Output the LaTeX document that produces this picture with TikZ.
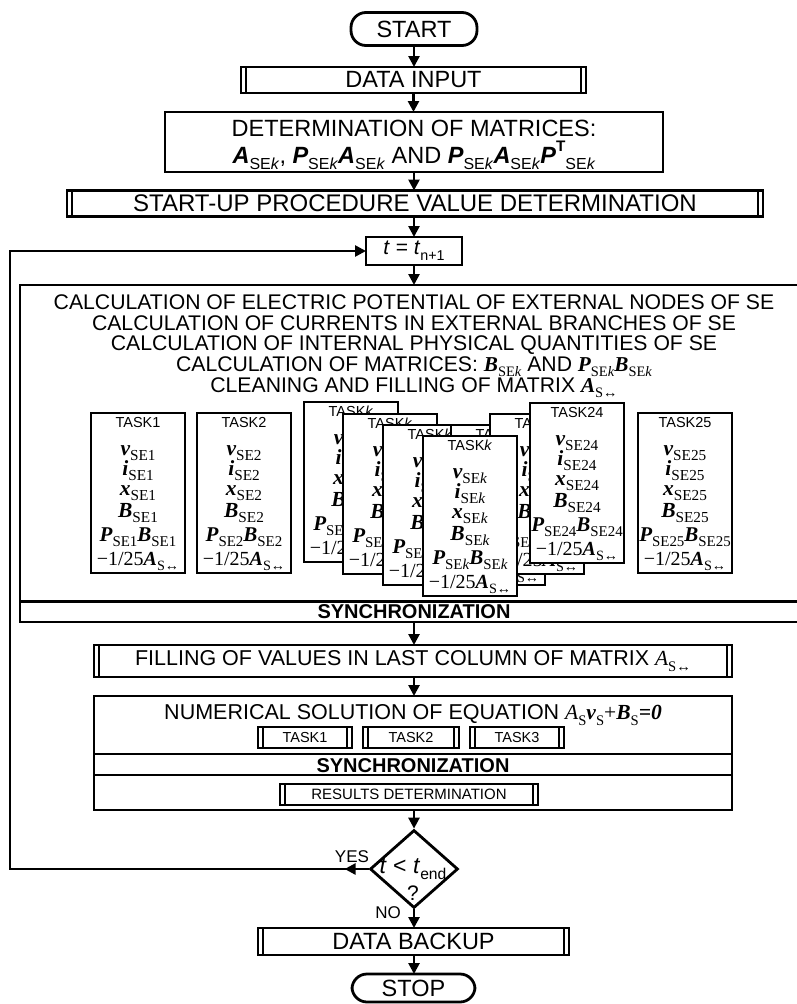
\documentclass[tikz,border=0pt]{standalone}
\usepackage{fontspec}
\setmainfont{Liberation Sans}
\setsansfont{Liberation Sans}
\newfontfamily\tms{Liberation Serif}
\usetikzlibrary{arrows.meta,shapes.geometric,calc}

\newcommand{\sbs}[1]{\raisebox{-0.28em}{\scalebox{0.68}{#1}}}
\newcommand{\tsbs}[1]{\raisebox{-0.25em}{\scalebox{0.71}{#1}}}
\newcommand{\sps}[1]{\raisebox{0.5em}{\scalebox{0.65}{#1}}}
\newcommand{\bis}[1]{{\tms\bfseries\itshape #1}}
\newcommand{\bia}[1]{{\bfseries\itshape #1}}
\newcommand{\fsz}[1]{\fontsize{#1}{#1}\selectfont}

\tikzset{
  box/.style={draw, line width=2.8pt, fill=white, inner sep=0pt, outer sep=0pt},
  pp/.style={box, path picture={\draw[line width=1.8pt]
      ([xshift=5pt]path picture bounding box.north west) -- ([xshift=5pt]path picture bounding box.south west)
      ([xshift=-5pt]path picture bounding box.north east) -- ([xshift=-5pt]path picture bounding box.south east);}},
  term/.style={box, rounded corners=15pt},
  tbox/.style={box, minimum width=94pt, minimum height=160pt},
  txt/.style={inner sep=0pt, outer sep=0pt},
  arr/.style={line width=2.6pt, -{Triangle[length=11pt,width=11pt]}},
  sepline/.style={line width=2.8pt},
}

% task box: name, left x, top y, label index, subscript index
\newcommand{\tsk}[5]{%
  \node[tbox] (#1) at (#2+47,#3+80) {};
  \node[txt, anchor=base, font=\fsz{14.5}] (#1-a) at (#2+47,#3+14) {TASK#4};
  \node[txt, anchor=base, font=\tms\fsz{21.5}] (#1-b) at (#2+47,#3+42) {\bis{v}\tsbs{SE#5}};
  \node[txt, anchor=base, font=\tms\fsz{21.5}] (#1-c) at (#2+47,#3+62) {\bis{i}\tsbs{SE#5}};
  \node[txt, anchor=base, font=\tms\fsz{21.5}] (#1-d) at (#2+47,#3+82) {\bis{x}\tsbs{SE#5}};
  \node[txt, anchor=base, font=\tms\fsz{21.5}] (#1-e) at (#2+47,#3+104) {\bis{B}\tsbs{SE#5}};
  \node[txt, anchor=base, font=\tms\fsz{21}] (#1-f) at (#2+47,#3+128) {\bis{P}\tsbs{SE#5}\bis{B}\tsbs{SE#5}};
  \node[txt, anchor=base, font=\tms\fsz{20}] (#1-g) at (#2+47,#3+152) {−1/25\bis{A}\tsbs{S↔}};
}

\begin{document}
\begin{tikzpicture}[x=1pt,y=-1pt]
\useasboundingbox (0,0) rectangle (797,1004);
\clip (0,0) rectangle (797,1004);
\fill[white] (0,0) rectangle (797,1004);

% top part
\node[term, minimum width=126pt, minimum height=33pt, font=\fsz{23.5}] (start) at (414,29) {START};
\node[pp, minimum width=345pt, minimum height=26pt, font=\fsz{23.5}] (din) at (413.5,80) {DATA INPUT};
\node[box, minimum width=498pt, minimum height=60pt] (det) at (414,142) {};
\node[txt, anchor=base, font=\fsz{23.5}] (det1) at (414,136) {DETERMINATION OF MATRICES:};
\node[txt, anchor=base, font=\fsz{23.5}] (det2) at (414,163) {\bia{A}\sbs{SE\textit{k}}, \bia{P}\sbs{SE\textit{k}}\bia{A}\sbs{SE\textit{k}} AND \bia{P}\sbs{SE\textit{k}}\bia{A}\sbs{SE\textit{k}}\bia{P}\sps{\textbf{T}}\sbs{SE\textit{k}}};
\node[pp, minimum width=696pt, minimum height=26pt, font=\fsz{24}] (sup) at (415,203.5) {START-UP PROCEDURE VALUE DETERMINATION};
\node[box, minimum width=96pt, minimum height=28pt, font=\fsz{21}] (t) at (414,251) {\textit{t} = \textit{t}\sbs{n+1}};

% big parallel box
\node[box, anchor=north west, minimum width=800pt, minimum height=337pt] (big) at (20,285) {};
\draw[sepline] ([yshift=-316.7pt]big.north west) -- ([yshift=-316.7pt]big.north east);
\node[txt, anchor=base, font=\fsz{21.2}] (b1) at (414,309) {CALCULATION OF ELECTRIC POTENTIAL OF EXTERNAL NODES OF SE};
\node[txt, anchor=base, font=\fsz{21.2}] (b2) at (414,330) {CALCULATION OF CURRENTS IN EXTERNAL BRANCHES OF SE};
\node[txt, anchor=base, font=\fsz{21.2}] (b3) at (414,350.5) {CALCULATION OF INTERNAL PHYSICAL QUANTITIES OF SE};
\node[txt, anchor=base, font=\fsz{21.2}] (b4) at (414,371) {CALCULATION OF MATRICES: \bis{B}\sbs{\tms SE\textit{k}} AND \bis{P}\sbs{\tms SE\textit{k}}\bis{B}\sbs{\tms SE\textit{k}}};
\node[txt, anchor=base, font=\fsz{21.2}] (b5) at (414,392) {CLEANING AND FILLING OF MATRIX \bis{A}\sbs{\tms S↔}};

\tsk{k1}{91}{413}{1}{1}
\tsk{k2}{197}{413}{2}{2}
\tsk{ka}{304}{402}{\textit{k}}{\textit{k}}
\tsk{kb}{343}{414}{\textit{k}}{\textit{k}}
\tsk{kc}{383}{425}{\textit{k}}{\textit{k}}
\tsk{ke}{451}{425}{\textit{k}}{\textit{k}}
\tsk{kf}{490}{414}{\textit{k}}{\textit{k}}
\tsk{k24}{530}{403}{24}{24}
\tsk{kd}{423}{436}{\textit{k}}{\textit{k}}
\tsk{k25}{638}{413}{25}{25}

\node[txt, font=\bfseries\fsz{20}] (sync1) at (414,612) {SYNCHRONIZATION};

% lower part
\node[pp, minimum width=638pt, minimum height=32pt, font=\fsz{21.5}] (fillv) at (413,661) {FILLING OF VALUES IN LAST COLUMN OF MATRIX {\tms\itshape A}\sbs{\tms S↔}};
\node[box, minimum width=638pt, minimum height=114pt] (num) at (413,753) {};
\node[txt, anchor=base, font=\fsz{21.5}] (numt) at (413,719.5) {NUMERICAL SOLUTION OF EQUATION {\tms\itshape A}\sbs{\tms S}\bis{v}\sbs{\tms S}{\tms +}\bis{B}\sbs{\tms S}\bis{=0}};
\node[pp, line width=2pt, minimum width=94pt, minimum height=21pt, font=\fsz{14.5}] (n1) at (305,737.5) {TASK1};
\node[pp, line width=2pt, minimum width=96pt, minimum height=21pt, font=\fsz{14.5}] (n2) at (411,737.5) {TASK2};
\node[pp, line width=2pt, minimum width=94pt, minimum height=21pt, font=\fsz{14.5}] (n3) at (517,737.5) {TASK3};
\draw[sepline] ([yshift=-58pt]num.north west) -- ([yshift=-58pt]num.north east);
\draw[sepline] ([yshift=-79pt]num.north west) -- ([yshift=-79pt]num.north east);
\node[txt, font=\bfseries\fsz{20}] (sync2) at (413,766) {SYNCHRONIZATION};
\node[pp, line width=2pt, minimum width=258pt, minimum height=21pt, font=\fsz{15}] (res) at (409,794.5) {RESULTS DETERMINATION};

\node[draw, diamond, line width=2.8pt, minimum width=88pt, minimum height=78pt, inner sep=0pt, fill=white] (dia) at (414,869) {};
\node[txt, font=\fsz{23}] (diat) at (413,869) {\textit{t} < \textit{t}\sbs{end}};
\node[txt, font=\fsz{21}] (diaq) at (413,893) {?};
\node[txt, font=\fsz{17}] (yes) at (352,857) {YES};
\node[txt, font=\fsz{17}] (no) at (388,913) {NO};

\node[pp, minimum width=311pt, minimum height=27pt, font=\fsz{23.5}] (bak) at (413.5,941.5) {DATA BACKUP};
\node[term, minimum width=123pt, minimum height=28pt, font=\fsz{23.5}] (stop) at (413.5,988) {STOP};

% connectors
\draw[arr] (start.south) -- (start.south |- din.north);
\draw[arr] (din.south) -- (din.south |- det.north);
\draw[arr] (det.south) -- (det.south |- sup.north);
\draw[arr] (sup.south -| t.north) -- (t.north);
\draw[arr] (t.south) -- (t.south |- big.north);
\draw[arr] (t.south |- big.south) -- (t.south |- fillv.north);
\draw[arr] (fillv.south -| t.south) -- (t.south |- num.north);
\draw[arr] (dia.north |- num.south) -- (dia.north);
\draw[arr] (dia.south) -- (dia.south |- bak.north);
\draw[arr] (bak.south -| dia.south) -- (dia.south |- stop.north);

\coordinate (lpb) at (10,869);
\draw[arr] (dia.west) -- (lpb) |- (t.west);
\draw[arr] (dia.west) -- ++(-24,0);
\end{tikzpicture}
\end{document}
